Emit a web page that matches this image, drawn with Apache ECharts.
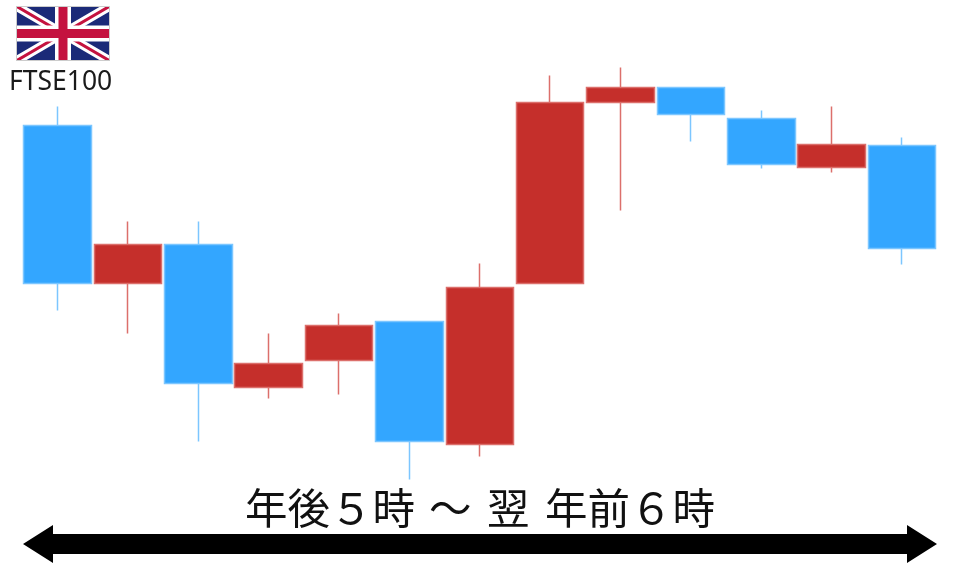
<!DOCTYPE html>
<html>
<head>
<meta charset="utf-8">
<title>FTSE100</title>
<script src="https://cdn.jsdelivr.net/npm/echarts@6/dist/echarts.min.js"></script>
<style>
  html, body { margin: 0; padding: 0; background: #fff; }
  #chart { width: 960px; height: 567px; }
</style>
</head>
<body>
<div id="chart"></div>
<script>
// 1時間足（午後5時〜翌午前6時）値は図から読み取り
const hours = ['17時', '18時', '19時', '20時', '21時', '22時', '23時', '0時', '1時', '2時', '3時', '4時', '5時'];
const opens = [375, 217, 256, 113, 140, 179, 56, 217, 398, 413, 382, 333, 355];
const closes = [217, 256, 117, 137, 175, 59, 213, 398, 413, 386, 336, 356, 252];
const lows = [190, 167, 59, 102, 106, 21, 44, 217, 290, 359, 332, 328, 236];
const highs = [394, 279, 279, 167, 187, 179, 237, 425, 433, 413, 390, 394, 363];

const candleData = hours.map((h, i) => [opens[i], closes[i], lows[i], highs[i]]);

// 英国旗
const flagSvg = `<svg xmlns="http://www.w3.org/2000/svg" viewBox="0 0 94 55" preserveAspectRatio="none" width="94" height="55">
<rect width="94" height="55" fill="#1B2A78"/>
<path d="M0,0 L94,55 M94,0 L0,55" stroke="#fff" stroke-width="9"/>
<path d="M0,0 L94,55 M94,0 L0,55" stroke="#C4123F" stroke-width="3"/>
<path d="M47,0 V55 M0,27.5 H94" stroke="#fff" stroke-width="16"/>
<path d="M47,0 V55 M0,27.5 H94" stroke="#C4123F" stroke-width="9"/>
<rect x="0.5" y="0.5" width="93" height="54" fill="none" stroke="#ccc" stroke-width="1"/>
</svg>`;

const chart = echarts.init(document.getElementById('chart'));

const jpFont = '42.5px "Noto Sans CJK JP", sans-serif';

chart.setOption({
    animation: false,
    backgroundColor: '#fff',
    grid: { left: 22.3, right: 22.7, top: 0.6, height: 500 },
    xAxis: { type: 'category', data: hours, show: false },
    yAxis: { type: 'value', min: 0, max: 500, show: false },
    series: [{
        type: 'candlestick',
        data: candleData,
        barWidth: 68,
        itemStyle: {
            color: '#C52F2B',
            color0: '#33A6FF',
            borderColor: '#DC6F6B',
            borderColor0: '#7CC6FF',
            borderWidth: 1.5
        }
    }],
    graphic: [
        {
            type: 'image',
            left: 16,
            top: 6,
            style: {
                image: 'data:image/svg+xml;charset=utf-8,' + encodeURIComponent(flagSvg),
                width: 94,
                height: 55
            }
        },
        {
            type: 'text',
            left: 9,
            top: 69,
            style: { text: 'FTSE100', font: '26.5px "Noto Sans", sans-serif', fill: '#1a1a1a' }
        },
        // 文字間隔が不揃いなので分けて置く
        { type: 'text', left: 245, top: 487, style: { text: '年後５時', font: jpFont, fill: '#111' } },
        { type: 'text', left: 429, top: 487, style: { text: '～', font: jpFont, fill: '#111' } },
        { type: 'text', left: 487, top: 487, style: { text: '翌', font: jpFont, fill: '#111' } },
        { type: 'text', left: 545, top: 487, style: { text: '年前６時', font: jpFont, fill: '#111' } },
        {
            // 時間帯の矢印
            type: 'polygon',
            shape: {
                points: [
                    [23, 544], [53, 525], [53, 534], [907, 534], [907, 525],
                    [937, 544], [907, 563], [907, 554], [53, 554], [53, 563]
                ]
            },
            style: { fill: '#000' }
        }
    ]
});
</script>
</body>
</html>
